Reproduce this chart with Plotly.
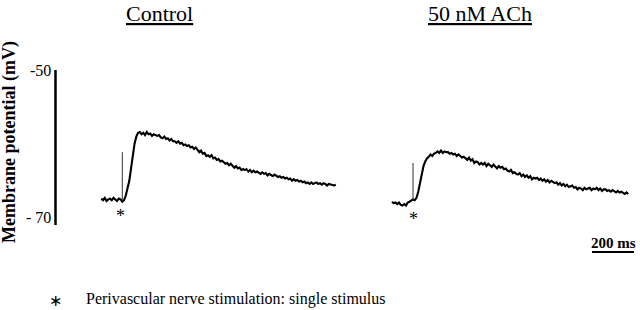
import numpy as np
import plotly.graph_objects as go

# ---------------- data ----------------
SAMPLE_MS = 25.0 / 3.0
START_MS = -100.0           # time of first sample relative to the stimulus

control_mv = [
    -66.6, -66.8, -66.5, -66.9, -66.7, -66.6, -66.8, -66.5, -66.7, -66.9, -66.6, -66.7,
    -67.0,
    -66.8, -66.2, -65.4, -64.3, -62.7, -61.0, -59.5, -58.6, -58.1,
    -58.0, -58.3, -58.1, -58.4, -58.0, -58.3, -58.2, -58.5, -58.3, -58.4,
    -58.5, -58.4, -58.7, -58.8, -58.6, -58.9, -58.8, -59.1, -58.9, -59.2,
    -59.2, -59.4, -59.2, -59.5, -59.4, -59.7, -59.6, -59.8, -59.7, -60.0,
    -59.9, -60.2, -60.0, -60.3, -60.6, -60.4, -60.8, -60.7, -61.1, -61.0,
    -61.2, -61.0, -61.4, -61.3, -61.6, -61.5, -61.8, -61.7, -61.9, -62.1,
    -62.0, -62.3, -62.1, -62.4, -62.6, -62.4, -62.7, -62.6, -62.9, -62.8,
    -62.9, -62.8, -63.1, -62.9, -63.2, -63.0, -63.2, -63.1, -63.2, -63.4,
    -63.2, -63.4, -63.3, -63.6, -63.4, -63.5, -63.7, -63.5, -63.6, -63.8,
    -63.7, -63.9, -63.8, -64.0, -63.9, -64.1, -64.0, -64.3, -64.1, -64.3,
    -64.2, -64.4, -64.3, -64.5, -64.4, -64.6, -64.5, -64.7, -64.5, -64.7,
    -64.6, -64.5, -64.7, -64.6, -64.8, -64.6, -64.7, -64.9, -64.7, -64.8,
    -64.8, -64.9, -64.8,
]

ach_mv = [
    -67.0, -67.2, -67.1, -67.3, -67.1, -67.4, -67.5, -67.3, -67.5, -67.1, -67.0, -66.8,
    -66.7,
    -66.8, -66.5, -65.7, -64.5, -63.3, -62.4, -61.8, -61.4, -61.2,
    -60.9, -61.1, -60.8, -60.7, -60.5, -60.7, -60.4, -60.7, -60.5, -60.6,
    -60.6, -60.8, -60.7, -60.9, -60.8, -61.1, -60.9, -61.1, -61.3, -61.2,
    -61.4, -61.6, -61.3, -61.7, -61.5, -62.0, -61.8, -61.9, -62.2, -62.0,
    -62.2, -62.0, -62.4, -62.1, -62.3, -62.5, -62.2, -62.4, -62.7, -62.4,
    -62.6, -62.5, -62.8, -62.7, -63.0, -63.1, -62.9, -63.3, -63.2, -63.4,
    -63.5, -63.3, -63.7, -63.5, -63.8, -63.6, -63.9, -63.7, -64.1, -63.9,
    -64.0, -63.9, -64.2, -64.0, -64.3, -64.1, -64.4, -64.2, -64.5, -64.3,
    -64.4, -64.6, -64.5, -64.8, -64.6, -64.9, -64.7, -65.0, -64.8, -65.1,
    -65.0, -64.9, -65.2, -65.1, -65.4, -65.2, -65.3, -65.5, -65.2, -65.4,
    -65.3, -65.2, -65.5, -65.3, -65.4, -65.2, -65.5, -65.3, -65.6, -65.4,
    -65.4, -65.6, -65.5, -65.7, -65.5, -65.6, -65.8, -65.6, -65.8, -65.7,
    -65.8, -66.0, -65.8, -66.0,
]

# stimulus artefact (vertical spike at t = 0): [base, top]
control_artifact_mv = [-66.9, -60.6]
ach_artifact_mv = [-66.8, -62.0]

panel_titles = ["Control", "50 nM ACh"]
y_scale_mv = [-50, -70]
y_scale_labels = ["-50", "- 70"]
time_scale_ms = 200
time_scale_label = "200 ms"
y_title = "Membrane potential (mV)"
footnote_mark = "\u2217"
footnote_text = "Perivascular nerve stimulation: single stimulus"
stim_mark = "*"

# ---------------- layout helpers ----------------
W, H = 640, 310
SERIF = "Liberation Serif, Times New Roman, serif"
MS_PER_PX = 200.0 / 42.0
PX_PER_MV = 7.75
Y_TOP_PX = 70.0           # pixel row of -50 mV
MV_AT_TOP = -50 + Y_TOP_PX / PX_PER_MV
MV_AT_BOTTOM = MV_AT_TOP - H / PX_PER_MV

SPLIT_PX = 352
CTRL_STIM_PX = 122.3
ACH_STIM_PX = 413.0


def py(px_row):
    return 1 - px_row / H


def px(px_col):
    return px_col / W


t_ctrl = START_MS + SAMPLE_MS * np.arange(len(control_mv))
t_ach = START_MS + SAMPLE_MS * np.arange(len(ach_mv))

fig = go.Figure()
line = dict(color="black", width=2.1)
fig.add_trace(go.Scatter(x=t_ctrl, y=control_mv, mode="lines", line=line,
                         xaxis="x", yaxis="y", showlegend=False, hoverinfo="skip"))
fig.add_trace(go.Scatter(x=[0, 0], y=control_artifact_mv, mode="lines",
                         line=dict(color="#333", width=1), xaxis="x", yaxis="y",
                         showlegend=False, hoverinfo="skip"))
fig.add_trace(go.Scatter(x=t_ach, y=ach_mv, mode="lines", line=line,
                         xaxis="x2", yaxis="y", showlegend=False, hoverinfo="skip"))
fig.add_trace(go.Scatter(x=[0, 0], y=ach_artifact_mv, mode="lines",
                         line=dict(color="#333", width=1), xaxis="x2", yaxis="y",
                         showlegend=False, hoverinfo="skip"))

ax_common = dict(visible=False, showgrid=False, zeroline=False, fixedrange=True)
fig.update_layout(
    width=W, height=H,
    margin=dict(l=0, r=0, t=0, b=0),
    paper_bgcolor="white", plot_bgcolor="white",
    xaxis=dict(domain=[0, SPLIT_PX / W],
               range=[(0 - CTRL_STIM_PX) * MS_PER_PX, (SPLIT_PX - CTRL_STIM_PX) * MS_PER_PX],
               **ax_common),
    xaxis2=dict(domain=[SPLIT_PX / W, 1], anchor="y",
                range=[(SPLIT_PX - ACH_STIM_PX) * MS_PER_PX, (W - ACH_STIM_PX) * MS_PER_PX],
                **ax_common),
    yaxis=dict(domain=[0, 1], range=[MV_AT_BOTTOM, MV_AT_TOP], **ax_common),
    font=dict(family=SERIF, color="black"),
)

# vertical mV scale bar
fig.add_shape(type="line", xref="paper", yref="y", x0=px(55.5), x1=px(55.5),
              y0=y_scale_mv[0], y1=y_scale_mv[1], line=dict(color="black", width=2.5))
fig.add_annotation(xref="paper", yref="y", x=px(53), y=y_scale_mv[0], text=y_scale_labels[0],
                   showarrow=False, xanchor="right", yanchor="middle",
                   font=dict(size=16, family=SERIF))
fig.add_annotation(xref="paper", yref="y", x=px(53), y=y_scale_mv[1], text=y_scale_labels[1],
                   showarrow=False, xanchor="right", yanchor="middle", yshift=8,
                   font=dict(size=16, family=SERIF))

# y title
fig.add_annotation(xref="paper", yref="paper", x=px(10), y=py(142), text="<b>%s</b>" % y_title,
                   textangle=-90, showarrow=False, xanchor="center", yanchor="middle",
                   font=dict(size=18, family=SERIF))

# panel titles
fig.add_annotation(xref="paper", yref="paper", x=px(159), y=py(13), text="<u>%s</u>" % panel_titles[0],
                   showarrow=False, xanchor="center", yanchor="middle", borderpad=0,
                   font=dict(size=22, family=SERIF))
fig.add_annotation(xref="paper", yref="paper", x=px(480), y=py(13), text="<u>%s</u>" % panel_titles[1],
                   showarrow=False, xanchor="center", yanchor="middle", borderpad=0,
                   font=dict(size=22, family=SERIF))

# stimulus marks
fig.add_annotation(xref="x", yref="paper", x=-2 * MS_PER_PX, y=py(216), text=stim_mark,
                   showarrow=False, xanchor="center", yanchor="middle",
                   font=dict(size=18, family=SERIF))
fig.add_annotation(xref="x2", yref="paper", x=0, y=py(219), text=stim_mark,
                   showarrow=False, xanchor="center", yanchor="middle",
                   font=dict(size=18, family=SERIF))

# time scale bar
tb0 = (592 - ACH_STIM_PX) * MS_PER_PX
fig.add_shape(type="line", xref="x2", yref="paper", x0=tb0, x1=tb0 + time_scale_ms,
              y0=py(252), y1=py(252), line=dict(color="black", width=2))
fig.add_annotation(xref="x2", yref="paper", x=tb0 + time_scale_ms / 2, y=py(243),
                   text="<b>%s</b>" % time_scale_label, showarrow=False,
                   xanchor="center", yanchor="middle", font=dict(size=15, family=SERIF))

# footnote
fig.add_annotation(xref="paper", yref="paper", x=px(55), y=py(300), text=footnote_mark,
                   showarrow=False, xanchor="center", yanchor="middle",
                   font=dict(size=16, family=SERIF))
fig.add_annotation(xref="paper", yref="paper", x=px(84), y=py(299), text=footnote_text,
                   showarrow=False, xanchor="left", yanchor="middle",
                   font=dict(size=16, family=SERIF))

fig.write_html("out.html",
               config={"displayModeBar": False, "staticPlot": True},
               post_script="document.body.style.margin='0';document.body.style.overflow='hidden';")
